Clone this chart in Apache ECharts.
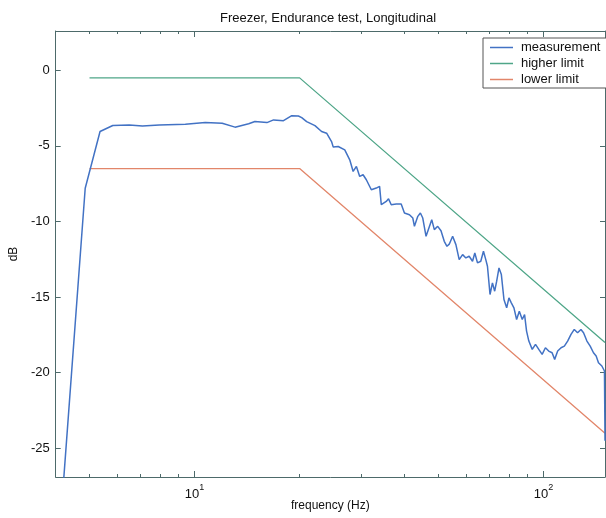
<!DOCTYPE html>
<html>
<head>
<meta charset="utf-8">
<script src="https://cdn.jsdelivr.net/npm/echarts@6/dist/echarts.min.js"></script>
<style>
html,body{margin:0;padding:0;background:#fff;}
#chart{width:606px;height:518px;}
</style>
</head>
<body>
<div id="chart"></div>
<script>
// ---- data ----
const measFreq = [4.20, 4.86, 5.36, 5.83, 6.50, 7.09, 7.92, 9.41, 10.73, 12.00, 13.06, 14.29, 14.89, 16.12, 16.84, 17.98, 18.99, 19.84, 20.28, 20.95, 22.13, 23.12, 23.90, 24.69, 24.97, 25.80, 26.94, 27.84, 28.47, 29.09, 29.73, 30.40, 31.06, 32.10, 33.17, 33.90, 34.28, 35.42, 35.96, 36.61, 37.83, 39.09, 39.94, 41.28, 42.20, 42.66, 43.62, 44.37, 45.07, 46.06, 46.58, 47.82, 48.64, 49.74, 50.83, 51.94, 52.87, 53.68, 54.89, 56.09, 57.32, 58.62, 59.90, 61.21, 62.59, 63.54, 64.68, 66.09, 67.27, 68.31, 69.07, 70.25, 71.38, 72.44, 73.40, 74.53, 75.70, 77.01, 78.40, 79.58, 80.84, 82.25, 83.72, 85.22, 86.90, 88.23, 89.40, 90.75, 92.80, 94.83, 96.91, 99.08, 101.25, 103.47, 105.80, 107.62, 109.77, 112.25, 114.71, 117.22, 119.86, 122.48, 125.16, 127.99, 130.19, 133.13, 136.04, 139.02, 141.50, 143.68, 146.93, 149.46, 150.0];
const measDB = [-27.6, -7.8, -4.05, -3.65, -3.61, -3.68, -3.61, -3.57, -3.46, -3.50, -3.76, -3.54, -3.39, -3.46, -3.28, -3.33, -3.0, -3.02, -3.13, -3.39, -3.66, -4.05, -4.16, -4.71, -5.08, -5.04, -5.26, -5.92, -6.69, -6.36, -7.02, -6.91, -7.24, -7.90, -7.79, -7.68, -8.89, -8.67, -8.50, -8.89, -8.85, -8.85, -9.44, -9.55, -9.77, -10.32, -9.66, -9.44, -9.77, -10.98, -10.87, -9.88, -10.54, -10.32, -10.61, -11.31, -11.64, -11.5, -10.98, -11.53, -12.52, -12.19, -12.41, -12.30, -12.63, -12.08, -12.74, -12.63, -11.97, -12.52, -12.96, -14.83, -14.06, -14.61, -13.95, -13.07, -13.51, -15.16, -15.71, -15.05, -15.38, -15.71, -16.48, -15.93, -16.48, -16.15, -17.25, -17.91, -18.46, -18.13, -18.46, -18.79, -18.35, -18.57, -18.68, -19.12, -18.57, -18.35, -18.24, -17.91, -17.47, -17.14, -17.36, -17.14, -17.36, -17.91, -18.24, -18.68, -18.90, -19.34, -19.56, -19.89, -24.5];
const limitFreq = [5, 20, 150];
const higherLimit = [-0.5, -0.5, -18.0];
const lowerLimit = [-6.5, -6.5, -24.0];
const seriesNames = ['measurement', 'higher limit', 'lower limit'];
const yTicks = [-25, -20, -15, -10, -5, 0];
const xMajorTicks = [10, 100];
const xMinorTicks = [5, 6, 7, 8, 9, 20, 30, 40, 50, 60, 70, 80, 90];
const xMajorExp = {10: '1', 100: '2'};

// ---- chart ----
const FONT = "'Liberation Sans', Arial, Helvetica, sans-serif";
const AX = '#4d6a6a';
const pairs = (xs, ys) => xs.map((x, i) => [x, ys[i]]);

const baseX = (extra) => Object.assign({
  type: 'log', logBase: 10, min: 4, max: 150, gridIndex: 0,
  splitLine: {show: false}, minorTick: {show: false},
  axisLine: {show: true, onZero: false, lineStyle: {color: AX, width: 1}},
  axisLabel: {show: false},
}, extra);

const chart = echarts.init(document.getElementById('chart'), null, {renderer: 'canvas'});
chart.setOption({
  animation: false,
  backgroundColor: '#fff',
  title: {
    text: 'Freezer, Endurance test, Longitudinal',
    left: 323, top: 7, textAlign: 'center',
    textStyle: {fontFamily: FONT, fontSize: 13, fontWeight: 'normal', color: '#111'}
  },
  legend: {
    data: seriesNames,
    orient: 'vertical',
    left: 483, top: 38,
    icon: 'rect',
    itemWidth: 23, itemHeight: 1.5, itemGap: 1,
    padding: [2, 8, 1, 7],
    borderColor: '#555', borderWidth: 1, backgroundColor: '#fff',
    textStyle: {fontFamily: FONT, fontSize: 13, color: '#111', lineHeight: 15, padding: [0, 0, 0, 3]}
  },
  grid: {left: 53, top: 31, right: 1, bottom: 41},
  xAxis: [
    baseX({
      position: 'bottom',
      name: 'frequency (Hz)', nameLocation: 'middle', nameGap: 23,
      nameTextStyle: {fontFamily: FONT, fontSize: 12, color: '#111'},
      axisTick: {show: true, inside: true, length: 3, customValues: xMinorTicks, lineStyle: {color: AX}},
    }),
    baseX({
      position: 'bottom',
      axisLine: {show: false, onZero: false},
      axisTick: {show: true, inside: true, length: 6, customValues: xMajorTicks, lineStyle: {color: AX}},
      axisLabel: {
        show: true, customValues: xMajorTicks, margin: 6,
        formatter: (v) => '{b|10}{s|' + (xMajorExp[Math.round(v)] || '') + '}',
        rich: {
          b: {fontFamily: FONT, fontSize: 13, color: '#111', lineHeight: 18, verticalAlign: 'bottom'},
          s: {fontFamily: FONT, fontSize: 9, color: '#111', lineHeight: 10, verticalAlign: 'top'}
        }
      }
    }),
    baseX({
      position: 'top',
      axisTick: {show: true, inside: true, length: 3, customValues: xMinorTicks, lineStyle: {color: AX}},
    }),
    baseX({
      position: 'top',
      axisLine: {show: false, onZero: false},
      axisTick: {show: true, inside: true, length: 6, customValues: xMajorTicks, lineStyle: {color: AX}},
    })
  ],
  yAxis: [
    {
      type: 'value', min: -26.9, max: 2.6, position: 'left', gridIndex: 0,
      name: 'dB', nameLocation: 'middle', nameGap: 30,
      nameTextStyle: {fontFamily: FONT, fontSize: 12, color: '#111'},
      splitLine: {show: false},
      axisLine: {show: true, onZero: false, lineStyle: {color: AX}},
      axisTick: {show: true, inside: true, length: 5, customValues: yTicks, lineStyle: {color: AX}},
      axisLabel: {show: true, customValues: yTicks, margin: 6, fontFamily: FONT, fontSize: 13, color: '#111'}
    },
    {
      type: 'value', min: -26.9, max: 2.6, position: 'right', gridIndex: 0,
      splitLine: {show: false},
      axisLine: {show: true, onZero: false, lineStyle: {color: AX}},
      axisTick: {show: true, inside: true, length: 5, customValues: yTicks, lineStyle: {color: AX}},
      axisLabel: {show: false}
    }
  ],
  series: [
    {
      name: seriesNames[0], type: 'line', xAxisIndex: 0, yAxisIndex: 0,
      data: pairs(measFreq, measDB), symbol: 'none', clip: true,
      lineStyle: {color: '#4272c4', width: 1.5}, itemStyle: {color: '#4272c4'}, z: 3
    },
    {
      name: seriesNames[1], type: 'line', xAxisIndex: 0, yAxisIndex: 0,
      data: pairs(limitFreq, higherLimit), symbol: 'none', clip: true,
      lineStyle: {color: '#4fa688', width: 1.3}, itemStyle: {color: '#4fa688'}, z: 2
    },
    {
      name: seriesNames[2], type: 'line', xAxisIndex: 0, yAxisIndex: 0,
      data: pairs(limitFreq, lowerLimit), symbol: 'none', clip: true,
      lineStyle: {color: '#e2866a', width: 1.3}, itemStyle: {color: '#e2866a'}, z: 2
    }
  ]
});
</script>
</body>
</html>
